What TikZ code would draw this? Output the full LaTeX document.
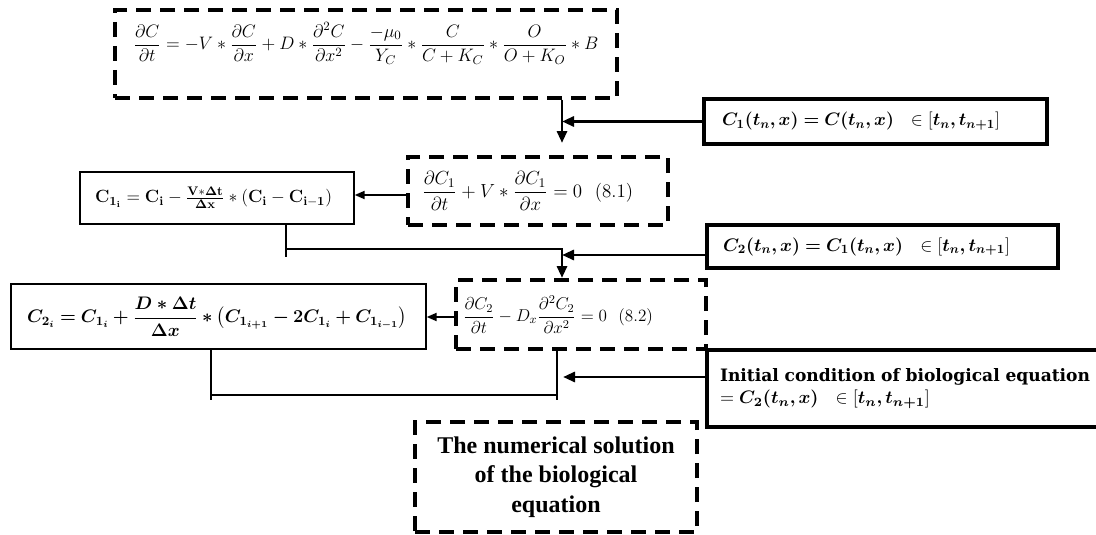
\RequirePackage{fix-cm}
\documentclass[tikz,border=0pt]{standalone}
\usepackage{amsmath,amssymb,bm,graphicx}
\usepackage[no-math]{fontspec}
\newfontfamily\timesfont{Liberation Serif}
\newfontfamily\cambfont{DejaVu Serif}
\newcommand{\fitto}[2]{\resizebox{#1pt}{!}{#2}}
\usetikzlibrary{arrows.meta}
\begin{document}
\begin{tikzpicture}[x=0.75pt,y=-0.75pt,
  dbox/.style={draw, line width=2.4pt, dash pattern=on 11pt off 7pt, inner sep=0pt,
    font=\fontsize{13}{15}\selectfont},
  sbox/.style={draw, line width=2.4pt, inner sep=0pt, font=\fontsize{13}{15}\selectfont},
  tbox/.style={draw, line width=1pt, inner sep=0pt, font=\fontsize{13}{15}\selectfont},
  conn/.style={line width=2.2pt},
  arr/.style={conn, -{Triangle[length=9pt,width=7.5pt]}},
  sarr/.style={line width=1.5pt, -{Triangle[length=7.5pt,width=6pt]}},
]
\useasboundingbox (0,0) rectangle (1096,535);

% boxes
\node[dbox, minimum width={502*0.75pt}, minimum height={88*0.75pt},
      text height=20pt, text depth=26.9pt] (top) at (366,54)
 {\fitto{348.75}{$\displaystyle \frac{\partial C}{\partial t} = -V * \frac{\partial C}{\partial x}
   + D * \frac{\partial^2 C}{\partial x^2} - \frac{-\mu_0}{Y_C} * \frac{C}{C+K_C}
   * \frac{O}{O+K_O} * B$}};

\node[sbox, minimum height={45*0.75pt}, align=left, text width={307*0.75pt},
      inner xsep={18*0.75pt}] (C1) at (875.5,121.5)
 {\fitto{208.5}{$\bm{C_1(t_n, x) = C(t_n, x)}\ \ \in [\bm{t_n, t_{n+1}}]$}};

\node[dbox, minimum height={68*0.75pt}, align=left, text width={232*0.75pt},
      inner xsep={14*0.75pt}] (b81) at (538,191)
 {\fitto{158.25}{$\displaystyle \frac{\partial C_1}{\partial t} + V * \frac{\partial C_1}{\partial x} = 0\ \ (8.1)$}};

\node[tbox, minimum height={52*0.75pt}, align=left, text width={244*0.75pt},
      inner xsep={15*0.75pt}] (C1i) at (217,198)
 {\fitto{177.75}{$\mathbf{C_{1_i} = C_i - \frac{V*\Delta t}{\Delta x} * (C_i - C_{i-1})}$}};

\node[sbox, minimum height={43*0.75pt}, align=left, text width={319*0.75pt},
      inner xsep={16*0.75pt}] (C2) at (882.5,246.5)
 {\fitto{215.25}{$\bm{C_2(t_n, x) = C_1(t_n, x)}\ \ \in [\bm{t_n, t_{n+1}}]$}};

\node[dbox, minimum height={69*0.75pt}, align=left, text width={236*0.75pt},
      inner xsep={7*0.75pt}] (b82) at (581,314.5)
 {\fitto{142.5}{$\displaystyle \frac{\partial C_2}{\partial t} - D_x \frac{\partial^2 C_2}{\partial x^2} = 0\ \ (8.2)$}};

\node[tbox, minimum height={65*0.75pt}, align=left, text width={383*0.75pt},
      inner xsep={16*0.75pt}] (C2i) at (218.5,316.5)
 {\fitto{285}{$\displaystyle \bm{C_{2_i} = C_{1_i} + \frac{D*\Delta t}{\Delta x} * \left(C_{1_{i+1}} - 2C_{1_i} + C_{1_{i-1}}\right)}$}};

\node[sbox, minimum height={77*0.75pt}, align=left, text width={371*0.75pt},
      inner xsep={13*0.75pt}, font=\fontsize{11}{16.5}\selectfont] (init) at (905.5,388.5)
 {\fitto{277.5}{\cambfont\bfseries Initial condition of biological equation}\\
  \fitto{157.5}{$= \bm{C_2(t_n, x)}\ \ \in [\bm{t_n, t_{n+1}}]$}};

\node[dbox, minimum width={282*0.75pt}, minimum height={110*0.75pt}, align=center,
      font=\timesfont\bfseries\fontsize{18}{22.2}\selectfont] (num) at (556,477)
 {The numerical solution\\of the biological\\equation};

% junction coordinates
\coordinate (j0) at (562,143);
\coordinate (m1) at (0,195);
\coordinate (j1) at (286,249);
\coordinate (j2) at (562,249);
\coordinate (t2) at (562,278);
\coordinate (m2) at (0,255);
\coordinate (m3) at (0,317);
\coordinate (k1) at (211,395);
\coordinate (k2) at (557,395);
\coordinate (t3) at (563,377);

% connectors
\draw[arr] (top.south -| j0) -- (j0);
\draw[arr] (C1.west) -- (C1.west -| j0);
\draw[sarr] (b81.west |- m1) -- (C1i.east |- m1);
\draw[conn] (C1i.south -| j1) -- ([yshift=-6pt]j1);
\draw[arr] (j1) -- (j2) -- (t2);
\draw[arr] (C2.west |- m2) -- (t2 |- m2);
\draw[sarr] (b82.west |- m3) -- (C2i.east |- m3);
\draw[conn] (C2i.south -| k1) -- ([yshift=-4pt]k1);
\draw[conn] (b82.south -| k2) -- ([yshift=-4pt]k2);
\draw[conn] (k1) -- (k2);
\draw[arr] (init.west |- t3) -- (t3);
\end{tikzpicture}
\end{document}
